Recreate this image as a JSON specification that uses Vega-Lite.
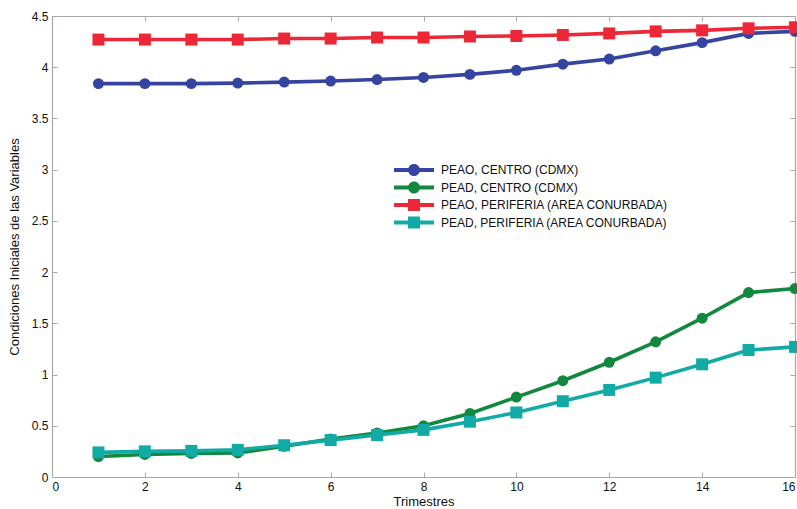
{
  "$schema": "https://vega.github.io/schema/vega-lite/v6.json",
  "autosize": "none",
  "width": 743,
  "height": 461,
  "padding": {"left": 52, "top": 16, "right": 2, "bottom": 32},
  "background": "white",
  "config": {
    "view": {"stroke": null},
    "font": "Liberation Sans",
    "axis": {"labelFont": "Liberation Sans", "titleFont": "Liberation Sans", "labelFontSize": 12, "titleFontSize": 13, "labelColor": "#111", "titleColor": "#111", "titleFontWeight": "normal", "grid": false, "domainColor": "#a8a8a8", "tickColor": "#a8a8a8", "tickSize": -5, "domainWidth": 1.2}
  },
  "data": {"values": [
    {"t":1,"serie":"PEAO, CENTRO (CDMX)","v":3.84},{"t":2,"serie":"PEAO, CENTRO (CDMX)","v":3.84},{"t":3,"serie":"PEAO, CENTRO (CDMX)","v":3.84},{"t":4,"serie":"PEAO, CENTRO (CDMX)","v":3.845},{"t":5,"serie":"PEAO, CENTRO (CDMX)","v":3.855},{"t":6,"serie":"PEAO, CENTRO (CDMX)","v":3.865},{"t":7,"serie":"PEAO, CENTRO (CDMX)","v":3.88},{"t":8,"serie":"PEAO, CENTRO (CDMX)","v":3.90},{"t":9,"serie":"PEAO, CENTRO (CDMX)","v":3.93},{"t":10,"serie":"PEAO, CENTRO (CDMX)","v":3.97},{"t":11,"serie":"PEAO, CENTRO (CDMX)","v":4.03},{"t":12,"serie":"PEAO, CENTRO (CDMX)","v":4.08},{"t":13,"serie":"PEAO, CENTRO (CDMX)","v":4.16},{"t":14,"serie":"PEAO, CENTRO (CDMX)","v":4.24},{"t":15,"serie":"PEAO, CENTRO (CDMX)","v":4.33},{"t":16,"serie":"PEAO, CENTRO (CDMX)","v":4.35},
    {"t":1,"serie":"PEAD, CENTRO (CDMX)","v":0.20},{"t":2,"serie":"PEAD, CENTRO (CDMX)","v":0.22},{"t":3,"serie":"PEAD, CENTRO (CDMX)","v":0.23},{"t":4,"serie":"PEAD, CENTRO (CDMX)","v":0.235},{"t":5,"serie":"PEAD, CENTRO (CDMX)","v":0.30},{"t":6,"serie":"PEAD, CENTRO (CDMX)","v":0.37},{"t":7,"serie":"PEAD, CENTRO (CDMX)","v":0.43},{"t":8,"serie":"PEAD, CENTRO (CDMX)","v":0.50},{"t":9,"serie":"PEAD, CENTRO (CDMX)","v":0.62},{"t":10,"serie":"PEAD, CENTRO (CDMX)","v":0.78},{"t":11,"serie":"PEAD, CENTRO (CDMX)","v":0.94},{"t":12,"serie":"PEAD, CENTRO (CDMX)","v":1.12},{"t":13,"serie":"PEAD, CENTRO (CDMX)","v":1.32},{"t":14,"serie":"PEAD, CENTRO (CDMX)","v":1.55},{"t":15,"serie":"PEAD, CENTRO (CDMX)","v":1.80},{"t":16,"serie":"PEAD, CENTRO (CDMX)","v":1.84},
    {"t":1,"serie":"PEAO, PERIFERIA (AREA CONURBADA)","v":4.27},{"t":2,"serie":"PEAO, PERIFERIA (AREA CONURBADA)","v":4.27},{"t":3,"serie":"PEAO, PERIFERIA (AREA CONURBADA)","v":4.27},{"t":4,"serie":"PEAO, PERIFERIA (AREA CONURBADA)","v":4.27},{"t":5,"serie":"PEAO, PERIFERIA (AREA CONURBADA)","v":4.28},{"t":6,"serie":"PEAO, PERIFERIA (AREA CONURBADA)","v":4.28},{"t":7,"serie":"PEAO, PERIFERIA (AREA CONURBADA)","v":4.29},{"t":8,"serie":"PEAO, PERIFERIA (AREA CONURBADA)","v":4.29},{"t":9,"serie":"PEAO, PERIFERIA (AREA CONURBADA)","v":4.30},{"t":10,"serie":"PEAO, PERIFERIA (AREA CONURBADA)","v":4.305},{"t":11,"serie":"PEAO, PERIFERIA (AREA CONURBADA)","v":4.315},{"t":12,"serie":"PEAO, PERIFERIA (AREA CONURBADA)","v":4.33},{"t":13,"serie":"PEAO, PERIFERIA (AREA CONURBADA)","v":4.35},{"t":14,"serie":"PEAO, PERIFERIA (AREA CONURBADA)","v":4.36},{"t":15,"serie":"PEAO, PERIFERIA (AREA CONURBADA)","v":4.38},{"t":16,"serie":"PEAO, PERIFERIA (AREA CONURBADA)","v":4.39},
    {"t":1,"serie":"PEAD, PERIFERIA (AREA CONURBADA)","v":0.24},{"t":2,"serie":"PEAD, PERIFERIA (AREA CONURBADA)","v":0.25},{"t":3,"serie":"PEAD, PERIFERIA (AREA CONURBADA)","v":0.255},{"t":4,"serie":"PEAD, PERIFERIA (AREA CONURBADA)","v":0.265},{"t":5,"serie":"PEAD, PERIFERIA (AREA CONURBADA)","v":0.31},{"t":6,"serie":"PEAD, PERIFERIA (AREA CONURBADA)","v":0.36},{"t":7,"serie":"PEAD, PERIFERIA (AREA CONURBADA)","v":0.41},{"t":8,"serie":"PEAD, PERIFERIA (AREA CONURBADA)","v":0.46},{"t":9,"serie":"PEAD, PERIFERIA (AREA CONURBADA)","v":0.54},{"t":10,"serie":"PEAD, PERIFERIA (AREA CONURBADA)","v":0.63},{"t":11,"serie":"PEAD, PERIFERIA (AREA CONURBADA)","v":0.74},{"t":12,"serie":"PEAD, PERIFERIA (AREA CONURBADA)","v":0.85},{"t":13,"serie":"PEAD, PERIFERIA (AREA CONURBADA)","v":0.97},{"t":14,"serie":"PEAD, PERIFERIA (AREA CONURBADA)","v":1.10},{"t":15,"serie":"PEAD, PERIFERIA (AREA CONURBADA)","v":1.24},{"t":16,"serie":"PEAD, PERIFERIA (AREA CONURBADA)","v":1.27}
  ]},
  "layer": [
    {
      "mark": {"type": "line", "strokeWidth": 3.6, "clip": false},
      "encoding": {
        "x": {"field": "t", "type": "quantitative", "scale": {"domain": [0, 16], "nice": false}, "axis": {"orient": "bottom", "values": [0,2,4,6,8,10,12,14,16], "title": "Trimestres", "labelPadding": 9, "titlePadding": 3}},
        "y": {"field": "v", "type": "quantitative", "scale": {"domain": [0, 4.5], "nice": false}, "axis": {"orient": "left", "values": [0,0.5,1,1.5,2,2.5,3,3.5,4,4.5], "format": "~g", "title": "Condiciones Iniciales de las Variables", "labelPadding": 9, "titlePadding": 10}},
        "color": {"field": "serie", "type": "nominal", "scale": {"domain": ["PEAO, CENTRO (CDMX)", "PEAD, CENTRO (CDMX)", "PEAO, PERIFERIA (AREA CONURBADA)", "PEAD, PERIFERIA (AREA CONURBADA)"], "range": ["#3444a0", "#12873e", "#ec2838", "#12aaa5"]}, "legend": null},
        "order": {"field": "t"}
      }
    },
    {
      "mark": {"type": "point", "filled": true, "opacity": 1, "clip": false},
      "encoding": {
        "x": {"field": "t", "type": "quantitative", "axis": null},
        "y": {"field": "v", "type": "quantitative", "axis": null},
        "color": {"field": "serie", "type": "nominal",
          "legend": {"title": null, "orient": "none", "legendX": 356, "legendY": 148, "symbolSize": 100, "symbolOpacity": 1, "symbolStrokeWidth": 0, "labelFont": "Liberation Sans", "labelFontSize": 12, "labelColor": "#111", "labelOffset": 21, "labelLimit": 400, "rowPadding": 5.5, "padding": 0,
            "encode": {"symbols": {"update": {"shape": {"signal": "indexof(datum.value, 'CENTRO') >= 0 ? 'M-4,-0.4L4,-0.4L4,0.4L-4,0.4Z M-1.2,0A1.2,1.2 0 1,1 1.2,0A1.2,1.2 0 1,1 -1.2,0Z' : 'M-4,-0.4L4,-0.4L4,0.4L-4,0.4Z M-1.2,-1.2L1.2,-1.2L1.2,1.2L-1.2,1.2Z'"}}}}}},
        "shape": {"condition": {"test": "indexof(datum.serie, 'CENTRO') >= 0", "value": "circle"}, "value": "square"},
        "size": {"condition": {"test": "indexof(datum.serie, 'CENTRO') >= 0", "value": 120}, "value": 144}
      }
    },
    {
      "mark": {"type": "point", "filled": true, "opacity": 0},
      "encoding": {
        "x": {"field": "t", "type": "quantitative", "axis": {"orient": "top", "values": [0,2,4,6,8,10,12,14,16], "labels": false, "title": null}},
        "y": {"field": "v", "type": "quantitative", "axis": {"orient": "right", "values": [0,0.5,1,1.5,2,2.5,3,3.5,4,4.5], "labels": false, "title": null}}
      }
    }
  ],
  "resolve": {"axis": {"x": "independent", "y": "independent"}, "legend": {"color": "independent"}}
}
